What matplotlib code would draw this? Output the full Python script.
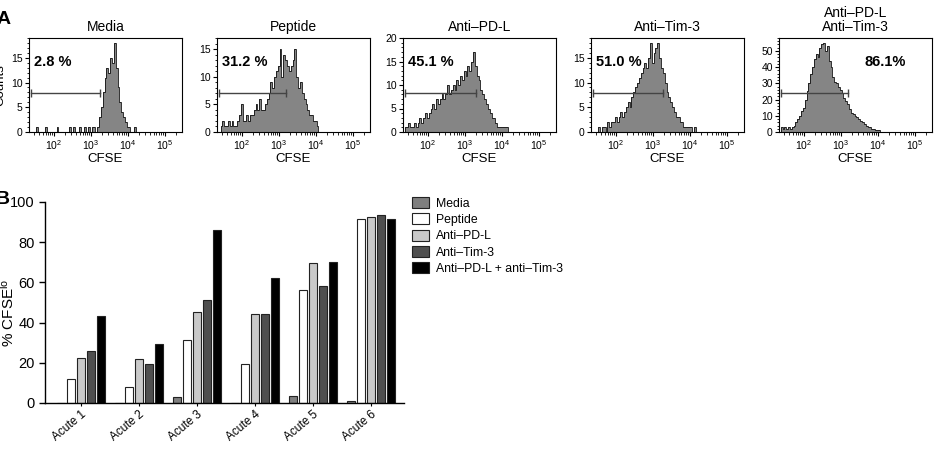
import numpy as np
import matplotlib
matplotlib.use("Agg")
import matplotlib.pyplot as plt
from matplotlib.ticker import LogLocator, MultipleLocator, NullFormatter
from matplotlib.patches import Patch

plt.rcParams['font.family'] = ['Liberation Sans', 'DejaVu Sans']
plt.rcParams['mathtext.default'] = 'regular'

# ---- panel A: CFSE histograms (bin centres in log10 units, step 0.05) ----
log_centres = np.round(np.arange(1.40, 4.601, 0.05), 2)

media = [0, 0, 0, 1, 0, 0, 0, 0, 1, 0, 0, 0, 0, 0, 1, 0, 0, 0, 0, 0, 0, 1, 0, 1, 0, 0, 1, 0, 0, 1,
         0, 1, 0, 1, 1, 0, 1, 3, 5, 8, 11, 13, 12, 15, 14, 18, 13, 9, 6, 4, 3, 2, 1, 1, 0, 0, 1, 0,
         0, 0, 0, 0, 0, 0, 0]
peptide = [0, 1, 2, 1, 1, 2, 1, 2, 1, 1, 2, 3, 5, 2, 2, 3, 2, 3, 3, 4, 5, 4, 6, 4, 4, 5, 6, 7, 9, 8,
           10, 11, 12, 15, 10, 14, 13, 12, 11, 12, 13, 15, 10, 8, 9, 7, 6, 5, 4, 3, 3, 2, 2, 1, 0, 0,
           0, 0, 0, 0, 0, 0, 0, 0, 0]
anti_pdl = [1, 1, 2, 1, 1, 2, 1, 2, 3, 2, 3, 4, 3, 4, 5, 6, 5, 7, 6, 7, 8, 7, 8, 10, 8, 9, 10, 9, 11,
            10, 12, 11, 13, 12, 14, 13, 15, 17, 14, 12, 11, 9, 8, 7, 6, 5, 4, 3, 3, 2, 1, 1, 1, 1, 1,
            1, 0, 0, 0, 0, 0, 0, 0, 0, 0]
anti_tim3 = [0, 0, 0, 1, 0, 1, 1, 0, 2, 1, 2, 2, 3, 2, 3, 4, 3, 4, 5, 6, 5, 7, 8, 9, 10, 11, 12, 13,
             14, 13, 15, 18, 14, 16, 17, 18, 15, 13, 12, 10, 8, 7, 6, 5, 4, 3, 3, 2, 2, 1, 1, 1, 1, 1,
             0, 1, 0, 0, 0, 0, 0, 0, 0, 0, 0]
combo = [3, 2, 3, 2, 3, 2, 3, 4, 6, 8, 10, 13, 15, 20, 25, 30, 36, 40, 45, 48, 46, 52, 54, 55, 50, 53,
         44, 40, 34, 31, 30, 28, 26, 24, 21, 19, 17, 14, 12, 11, 10, 9, 8, 7, 6, 5, 4, 3, 3, 2, 2, 1,
         1, 1, 0, 0, 0, 0, 0, 0, 0, 0, 0, 0, 0]

hist_titles = ['Media', 'Peptide', 'Anti\u2013PD-L', 'Anti\u2013Tim-3', 'Anti\u2013PD-L\nAnti\u2013Tim-3']
hist_data = [media, peptide, anti_pdl, anti_tim3, combo]
hist_ymax = [19, 17, 20, 19, 58]
hist_yticks = [[0, 5, 10, 15], [0, 5, 10, 15], [0, 5, 10, 15, 20], [0, 5, 10, 15],
               [0, 10, 20, 30, 40, 50]]
pct_labels = ['2.8 %', '31.2 %', '45.1 %', '51.0 %', '86.1%']
gate_hi = [3.24, 3.19, 3.30, 3.27, 3.20]
gate_y = [7.9, 7.1, 8.3, 7.9, 24]

# ---- panel B: bars ----
patients = ['Acute 1', 'Acute 2', 'Acute 3', 'Acute 4', 'Acute 5', 'Acute 6']
conditions = ['Media', 'Peptide', 'Anti\u2013PD-L', 'Anti\u2013Tim-3', 'Anti\u2013PD-L + anti\u2013Tim-3']
bar_media = [0, 0, 2.8, 0, 3.3, 1.0]
bar_peptide = [11.8, 8.0, 31.2, 19.2, 56.4, 91.3]
bar_pdl = [22.5, 22.0, 45.1, 44.2, 69.8, 92.3]
bar_tim3 = [25.9, 19.4, 51.0, 44.2, 58.4, 93.6]
bar_combo = [43.2, 29.5, 86.1, 62.4, 70.3, 91.3]
bar_colors = ['#7f7f7f', '#ffffff', '#c9c9c9', '#4f4f4f', '#000000']

fig = plt.figure(figsize=(9.44, 4.70), dpi=100)

lefts = [29, 217, 403, 591, 779]
edges = 10 ** np.append(log_centres - 0.025, log_centres[-1] + 0.025)
for i in range(5):
    ax = fig.add_axes([lefts[i] / 944, 1 - 132 / 470, 153 / 944, 94 / 470])
    vals = np.array(hist_data[i], dtype=float)
    ax.stairs(vals, edges, fill=True, color='#858585')
    ax.stairs(vals, edges, color='#111111', lw=0.6)
    ax.set_xscale('log')
    ax.set_xlim(10 ** 1.33, 10 ** 5.47)
    ax.set_ylim(0, hist_ymax[i])
    ax.set_xticks([1e2, 1e3, 1e4, 1e5])
    ax.set_xticklabels(['$10^2$', '$10^3$', '$10^4$', '$10^5$'])
    ax.xaxis.set_minor_locator(LogLocator(base=10, subs=np.arange(2, 10), numticks=20))
    ax.xaxis.set_minor_formatter(NullFormatter())
    ax.set_yticks(hist_yticks[i])
    ax.yaxis.set_minor_locator(MultipleLocator(2 if i == 4 else 1))
    ax.tick_params(which='major', length=3, width=0.8, labelsize=7.5, pad=1.5)
    ax.tick_params(which='minor', length=1.8, width=0.6)
    for s in ax.spines.values():
        s.set_linewidth(0.8)
    ax.set_xlabel('CFSE', fontsize=9.5, labelpad=1)
    ax.set_title(hist_titles[i], fontsize=10, pad=5, linespacing=1.05)
    xpos = 0.56 if i == 4 else 0.035
    ax.text(xpos, 0.745, pct_labels[i], transform=ax.transAxes, fontsize=10.5,
            fontweight='bold', va='center', ha='left')
    ax.plot([10 ** 1.38, 10 ** gate_hi[i]], [gate_y[i], gate_y[i]], color='#444444',
            lw=1.0, marker='|', markersize=6, markeredgewidth=1.0)

fig.text(0.0, 1 - 85 / 470, 'Counts', rotation=90, fontsize=9.5, ha='center', va='center')
fig.text(-0.004, 1 - 20 / 470, 'A', fontsize=14, fontweight='bold', ha='left', va='center')
fig.text(-0.004, 1 - 200 / 470, 'B', fontsize=14, fontweight='bold', ha='left', va='center')

# bar chart
axb = fig.add_axes([45 / 944, 1 - 403 / 470, 359 / 944, 201 / 470])
x = np.arange(len(patients))
step = 0.172
width = 0.145
series = [bar_media, bar_peptide, bar_pdl, bar_tim3, bar_combo]
for k, vals in enumerate(series):
    axb.bar(x + (k - 2) * step, vals, width, color=bar_colors[k], edgecolor='#222222',
            linewidth=0.8, label=conditions[k])
axb.set_xlim(-0.62, 5.57)
axb.set_ylim(0, 100)
axb.set_yticks([0, 20, 40, 60, 80, 100])
axb.set_xticks(x)
axb.set_xticklabels(patients, rotation=40, ha='right', rotation_mode='anchor', fontsize=8.5)
axb.spines['top'].set_visible(False)
axb.spines['right'].set_visible(False)
axb.spines['left'].set_linewidth(1.0)
axb.spines['bottom'].set_linewidth(1.0)
axb.tick_params(axis='y', labelsize=10.5, length=4, width=1.0)
axb.tick_params(axis='x', length=2, width=0.8, pad=2)
axb.set_ylabel('% CFSE$^{lo}$', fontsize=11)
axb.yaxis.set_label_coords(-0.078, 0.45)

handles = [Patch(facecolor=c, edgecolor='#222222', linewidth=0.8) for c in bar_colors]
fig.legend(handles, conditions, loc='upper left', bbox_to_anchor=(412 / 944, 1 - 197 / 470),
           frameon=False, fontsize=8.8, handlelength=1.4, handleheight=1.0, handletextpad=0.6,
           labelspacing=0.3, borderaxespad=0, borderpad=0)

fig.savefig('out.png', dpi=100)
